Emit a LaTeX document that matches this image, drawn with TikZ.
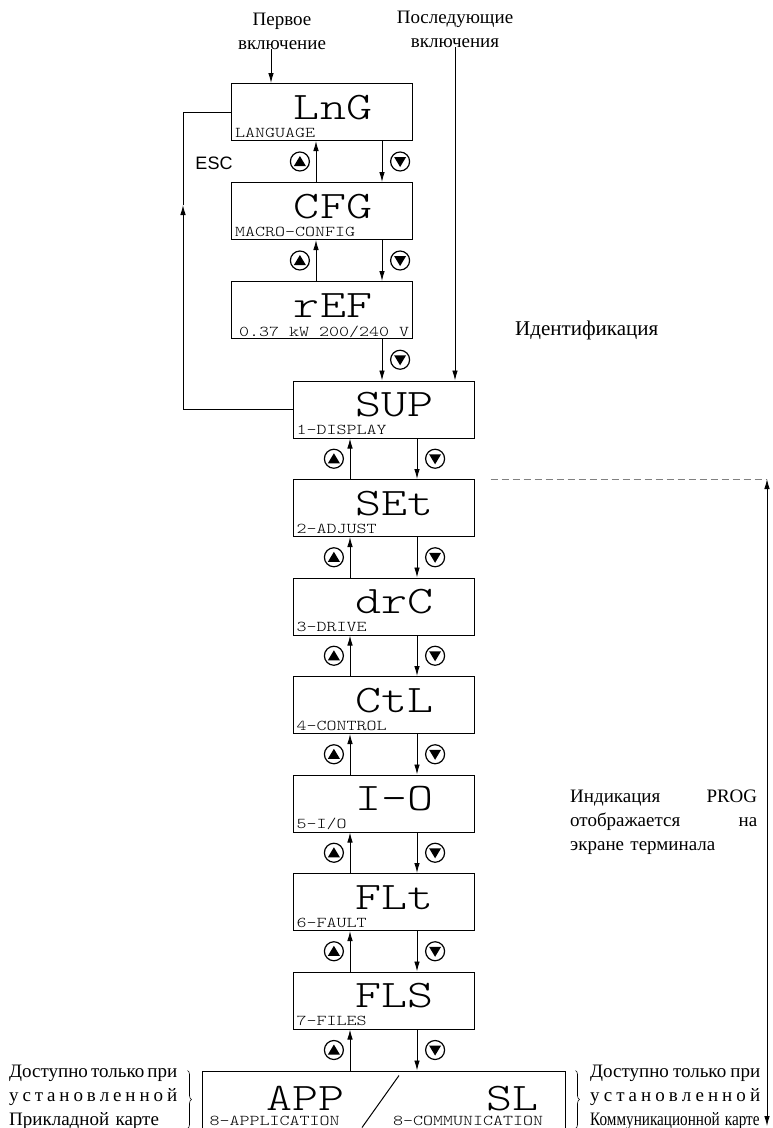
\documentclass[tikz,border=0pt]{standalone}
\usepackage{fontspec}
\usepackage{graphicx}
\setmainfont{Liberation Serif}
\setsansfont{Liberation Sans}
\newfontfamily\scrfont[FakeStretch=1.27]{Latin Modern Mono Light}
\usetikzlibrary{positioning,arrows.meta,decorations.pathreplacing}

\tikzset{
  scrbox/.style={draw, rectangle, line width=1pt, minimum width=181pt, minimum height=57pt, inner sep=0pt},
  bigtxt/.style={anchor=base, inner sep=0pt, text depth=0pt, font=\scrfont\fontsize{39}{40}\selectfont},
  smalltxt/.style={anchor=base west, inner sep=0pt, text depth=0pt, font=\scrfont\fontsize{15}{16}\selectfont},
  note/.style={inner sep=0pt, font=\fontsize{19}{24}\selectfont},
  btnup/.style={circle, draw, line width=1.2pt, minimum size=19pt, inner sep=0pt,
    path picture={\fill ([yshift=5.5pt]path picture bounding box.center) -- ++(-6pt,-10pt) -- ++(12pt,0pt) -- cycle;}},
  btndown/.style={circle, draw, line width=1.2pt, minimum size=19pt, inner sep=0pt,
    path picture={\fill ([yshift=-5.5pt]path picture bounding box.center) -- ++(-6pt,10pt) -- ++(12pt,0pt) -- cycle;}},
  link/.style={->, line width=0.9pt}
}

\begin{document}
\begin{tikzpicture}[x=1pt, y=-1pt, node distance=40.5pt, >={Latex[length=10pt,width=5.5pt]}]
  \useasboundingbox (0,0) rectangle (772,1128);

  % columns of the connectors
  \coordinate (inA) at (271,0);
  \coordinate (inB) at (455,0);
  \coordinate (upA) at (316,0);
  \coordinate (dnA) at (382,0);
  \coordinate (upB) at (350,0);
  \coordinate (dnB) at (417,0);
  \coordinate (escx) at (183,205);
  \coordinate (progx) at (767,0);
  \coordinate (progend) at (767,1126);

  % start-up screens
  \node[scrbox] (lng) at (322,112) {};
  \node[scrbox, below=41pt of lng] (cfg) {};
  \node[scrbox, below=41pt of cfg] (ref) {};

  % menu screens
  \node[scrbox] (sup) at (383.5,409.5) {};
  \node[scrbox, below=of sup] (set) {};
  \node[scrbox, below=of set] (drc) {};
  \node[scrbox, below=of drc] (ctl) {};
  \node[scrbox, below=of ctl] (io) {};
  \node[scrbox, below=of io] (flt) {};
  \node[scrbox, below=of flt] (fls) {};
  \node[scrbox, minimum width=363pt, below=41pt of fls] (app) {};

  % screen texts
  \node[bigtxt] (lngT) at ([xshift=11pt,yshift=-7pt]lng.center) {LnG};
  \node[smalltxt] (lngS) at ([xshift=4pt,yshift=4pt]lng.south west) {LANGUAGE};
  \node[bigtxt] (cfgT) at ([xshift=11pt,yshift=-7pt]cfg.center) {CFG};
  \node[smalltxt] (cfgS) at ([xshift=4pt,yshift=4pt]cfg.south west) {MACRO-CONFIG};
  \node[bigtxt] (refT) at ([xshift=11pt,yshift=-7pt]ref.center) {rEF};
  \node[smalltxt] (refS) at ([xshift=8pt,yshift=3pt]ref.south west) {0.37 kW 200/240 V};
  \node[bigtxt] (supT) at ([xshift=11pt,yshift=-7pt]sup.center) {SUP};
  \node[smalltxt] (supS) at ([xshift=4pt,yshift=4pt]sup.south west) {1-DISPLAY};
  \node[bigtxt] (setT) at ([xshift=11pt,yshift=-7pt]set.center) {SEt};
  \node[smalltxt] (setS) at ([xshift=4pt,yshift=4pt]set.south west) {2-ADJUST};
  \node[bigtxt] (drcT) at ([xshift=11pt,yshift=-7pt]drc.center) {drC};
  \node[smalltxt] (drcS) at ([xshift=4pt,yshift=4pt]drc.south west) {3-DRIVE};
  \node[bigtxt] (ctlT) at ([xshift=11pt,yshift=-7pt]ctl.center) {CtL};
  \node[smalltxt] (ctlS) at ([xshift=4pt,yshift=4pt]ctl.south west) {4-CONTROL};
  \node[bigtxt] (ioT) at ([xshift=11pt,yshift=-7pt]io.center) {I-O};
  \node[smalltxt] (ioS) at ([xshift=4pt,yshift=4pt]io.south west) {5-I/O};
  \node[bigtxt] (fltT) at ([xshift=11pt,yshift=-7pt]flt.center) {FLt};
  \node[smalltxt] (fltS) at ([xshift=4pt,yshift=4pt]flt.south west) {6-FAULT};
  \node[bigtxt] (flsT) at ([xshift=11pt,yshift=-7pt]fls.center) {FLS};
  \node[smalltxt] (flsS) at ([xshift=4pt,yshift=4pt]fls.south west) {7-FILES};
  \node[bigtxt] (appT) at ([xshift=-78pt,yshift=-11pt]app.center) {APP};
  \node[smalltxt] (appS) at ([xshift=8pt,yshift=3pt]app.south west) {8-APPLICATION};
  \node[bigtxt] (slT) at ([xshift=129pt,yshift=-11pt]app.center) {SL};
  \node[smalltxt] (slS) at ([xshift=9.5pt,yshift=3pt]app.south) {8-COMMUNICATION};
  \draw[line width=1pt] ([xshift=15.5pt,yshift=-5pt]app.north) -- ([xshift=-21.5pt,yshift=1pt]app.south);

  % notes
  \node[note, align=center, anchor=base] (first) at (282,49) {Первое\\включение};
  \node[note, align=center, anchor=base] (later) at (455,47) {Последующие\\включения};
  \node[font=\sffamily\fontsize{18}{20}\selectfont] (esc) at (214,163) {ESC};
  \node[note, font=\fontsize{21}{24}\selectfont, anchor=base west] (ident) at (515,335) {Идентификация};
  \node[note, anchor=base west, text width=187pt, align=left] (prog) at (570,802)
    {Индикация\hfill PROG\\отображается\hfill на\\экране терминала};
  \node[note, anchor=base west, text width=168pt, align=left] (leftnote) at (9,1077)
    {Доступно\hfill только\hfill при\\у\hfill с\hfill т\hfill а\hfill н\hfill о\hfill в\hfill л\hfill е\hfill н\hfill н\hfill о\hfill й\\Прикладной карте};
  \node[note, anchor=base west, text width=170pt, align=left] (rightnote) at (590,1077)
    {Доступно\hfill только\hfill при\\у\hfill с\hfill т\hfill а\hfill н\hfill о\hfill в\hfill л\hfill е\hfill н\hfill н\hfill о\hfill й\\\scalebox{0.8}[1]{Коммуникационной карте}};
  \draw[line width=0.6pt, decorate, decoration={brace, amplitude=4pt}] ([xshift=-14pt]app.north west) -- ([xshift=-14pt]app.south west);
  \draw[line width=0.6pt, decorate, decoration={brace, amplitude=4pt}] ([xshift=10pt]app.north east) -- ([xshift=10pt]app.south east);

  % entries
  \draw[link] (first.south -| inA) -- (lng.north -| inA);
  \draw[link] (later.south -| inB) -- (sup.north -| inB);

  % start-up moves
  \draw[link] (cfg.north -| upA) -- node[btnup, left=6pt] (u1) {} (lng.south -| upA);
  \draw[link] (lng.south -| dnA) -- node[btndown, right=8pt] (d1) {} (cfg.north -| dnA);
  \draw[link] (ref.north -| upA) -- node[btnup, left=6pt] (u2) {} (cfg.south -| upA);
  \draw[link] (cfg.south -| dnA) -- node[btndown, right=8pt] (d2) {} (ref.north -| dnA);
  \draw[link] (ref.south -| dnA) -- node[btndown, right=8pt] (d3) {} (sup.north -| dnA);

  % ESC loop
  \draw[link] (sup.west) -| (escx);
  \draw[line width=0.9pt] (escx) |- (lng.west);

  % menu moves
  \draw[link] (set.north -| upB) -- node[btnup, left=6pt] (u3) {} (sup.south -| upB);
  \draw[link] (sup.south -| dnB) -- node[btndown, right=8pt] (d4) {} (set.north -| dnB);
  \draw[link] (drc.north -| upB) -- node[btnup, left=6pt] (u4) {} (set.south -| upB);
  \draw[link] (set.south -| dnB) -- node[btndown, right=8pt] (d5) {} (drc.north -| dnB);
  \draw[link] (ctl.north -| upB) -- node[btnup, left=6pt] (u5) {} (drc.south -| upB);
  \draw[link] (drc.south -| dnB) -- node[btndown, right=8pt] (d6) {} (ctl.north -| dnB);
  \draw[link] (io.north -| upB) -- node[btnup, left=6pt] (u6) {} (ctl.south -| upB);
  \draw[link] (ctl.south -| dnB) -- node[btndown, right=8pt] (d7) {} (io.north -| dnB);
  \draw[link] (flt.north -| upB) -- node[btnup, left=6pt] (u7) {} (io.south -| upB);
  \draw[link] (io.south -| dnB) -- node[btndown, right=8pt] (d8) {} (flt.north -| dnB);
  \draw[link] (fls.north -| upB) -- node[btnup, left=6pt] (u8) {} (flt.south -| upB);
  \draw[link] (flt.south -| dnB) -- node[btndown, right=8pt] (d9) {} (fls.north -| dnB);
  \draw[link] (app.north -| upB) -- node[btnup, left=6pt] (u9) {} (fls.south -| upB);
  \draw[link] (fls.south -| dnB) -- node[btndown, right=8pt] (d10) {} (app.north -| dnB);

  % PROG range
  \draw[gray, line width=0.8pt, dash pattern=on 7pt off 4pt] ([xshift=16pt]set.north east) -- (set.north -| progx);
  \draw[<->, line width=0.9pt] (set.north -| progx) -- (progend);
\end{tikzpicture}
\end{document}
